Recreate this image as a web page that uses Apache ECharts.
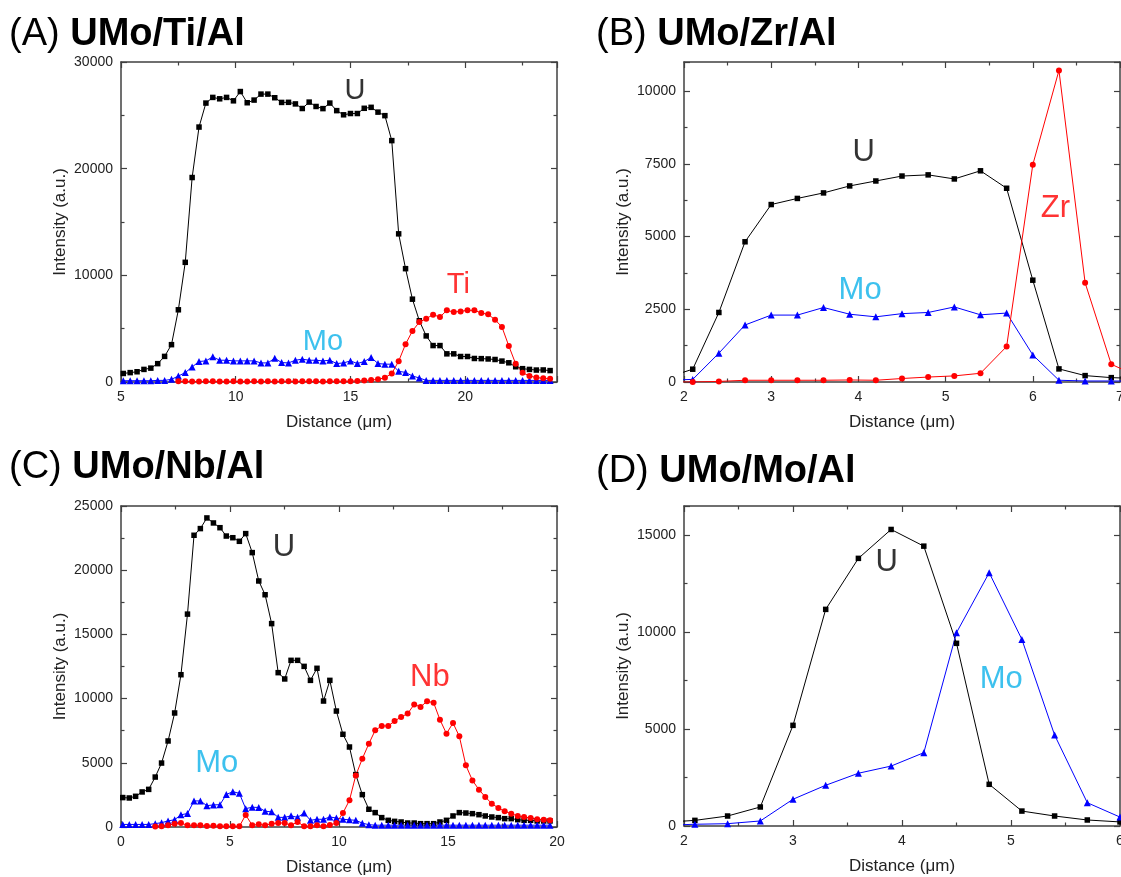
<!DOCTYPE html>
<html>
<head>
<meta charset="utf-8">
<script src="https://cdn.jsdelivr.net/npm/echarts@6/dist/echarts.min.js"></script>
<style>
  html, body { margin: 0; padding: 0; background: #ffffff; }
  #chart { width: 1121px; height: 877px; }
</style>
</head>
<body>
<div id="chart"></div>
<script>
// ---------- Line-scan data (distance in µm, intensity in a.u.) ----------

// (A) UMo/Ti/Al
const distA = [5.1, 5.4, 5.7, 6.0, 6.3, 6.6, 6.9, 7.2, 7.5, 7.8, 8.1, 8.4, 8.7, 9.0, 9.3, 9.6, 9.9, 10.2, 10.5, 10.8,
  11.1, 11.4, 11.7, 12.0, 12.3, 12.6, 12.9, 13.2, 13.5, 13.8, 14.1, 14.4, 14.7, 15.0, 15.3, 15.6, 15.9, 16.2, 16.5, 16.8,
  17.1, 17.4, 17.7, 18.0, 18.3, 18.6, 18.9, 19.2, 19.5, 19.8, 20.1, 20.4, 20.7, 21.0, 21.3, 21.6, 21.9, 22.2, 22.5, 22.8,
  23.1, 23.4, 23.7];
const uA = [800, 880, 960, 1180, 1300, 1720, 2400, 3500, 6770, 11220, 19170, 23900, 26150, 26680, 26550, 26680, 26360, 27230, 26180, 26430,
  26990, 26990, 26650, 26210, 26220, 26070, 25640, 26240, 25830, 25630, 26150, 25440, 25050, 25170, 25170, 25660, 25750, 25300, 24970, 22630,
  13890, 10625, 7765, 5745, 4320, 3415, 3415, 2640, 2640, 2390, 2390, 2205, 2190, 2160, 2110, 1960, 1800, 1430, 1250, 1180,
  1120, 1130, 1070];
const moA = [120, 120, 120, 120, 120, 150, 150, 250, 560, 880, 1410, 1920, 1980, 2360, 2040, 2040, 1980, 1980, 1980, 1980,
  1790, 1790, 2230, 1820, 1790, 2040, 2140, 2040, 2040, 1980, 2040, 1730, 1790, 1980, 1730, 1920, 2300, 1730, 1670, 1670,
  1000, 900, 560, 380, 150, 150, 150, 150, 150, 150, 150, 150, 150, 150, 150, 150, 150, 150, 150, 150,
  150, 150, 150];
const tiA = [null, null, null, null, null, null, null, null, 60, 60, 50, 50, 60, 60, 50, 50, 60, 50, 50, 60,
  50, 60, 50, 60, 60, 50, 60, 60, 60, 50, 60, 70, 60, 80, 100, 130, 180, 250, 400, 800,
  1950, 3550, 4780, 5620, 5940, 6310, 6090, 6720, 6560, 6620, 6720, 6720, 6470, 6340, 5840, 5160, 3380, 1700, 870, 560,
  420, 340, 300];

// (B) UMo/Zr/Al
const distB = [1.8, 2.1, 2.4, 2.7, 3.0, 3.3, 3.6, 3.9, 4.2, 4.5, 4.8, 5.1, 5.4, 5.7, 6.0, 6.3, 6.6, 6.9, 7.2];
const uB  = [150, 440, 2390, 4820, 6100, 6310, 6500, 6740, 6910, 7080, 7120, 6980, 7260, 6660, 3500, 450, 220, 150, 120];
const moB = [60, 90, 990, 1960, 2300, 2300, 2560, 2330, 2240, 2350, 2390, 2580, 2310, 2370, 930, 60, 35, 35, 30];
const zrB = [0, 0, 20, 60, 60, 60, 60, 70, 60, 120, 170, 210, 300, 1220, 7470, 10710, 3410, 610, 200];

// (C) UMo/Nb/Al
const distC = [0.08, 0.38, 0.67, 0.97, 1.27, 1.57, 1.86, 2.16, 2.46, 2.75, 3.05, 3.35, 3.64, 3.94, 4.24, 4.54, 4.83, 5.13, 5.43, 5.72,
  6.02, 6.32, 6.61, 6.91, 7.21, 7.51, 7.80, 8.10, 8.40, 8.69, 8.99, 9.29, 9.58, 9.88, 10.18, 10.48, 10.77, 11.07, 11.37, 11.66,
  11.96, 12.26, 12.55, 12.85, 13.15, 13.45, 13.74, 14.04, 14.34, 14.63, 14.93, 15.23, 15.52, 15.82, 16.12, 16.42, 16.71, 17.01, 17.31, 17.60,
  17.90, 18.20, 18.49, 18.79, 19.09, 19.39, 19.68];
const uC = [2290, 2260, 2390, 2730, 2930, 3890, 4980, 6700, 8880, 11860, 16580, 22720, 23240, 24070, 23680, 23310, 22660, 22530, 22250, 22850,
  21370, 19160, 18090, 15840, 12020, 11530, 12980, 12980, 12510, 11420, 12360, 9810, 11420, 9030, 7220, 6230, 4080, 2520, 1380, 1120,
  730, 520, 440, 390, 310, 310, 260, 260, 260, 390, 520, 860, 1120, 1090, 1040, 960, 860, 780, 730, 650,
  650, 570, 520, 520, 470, 470, 470];
const moC = [200, 200, 200, 200, 200, 260, 340, 470, 570, 950, 1050, 2030, 2030, 1660, 1720, 1740, 2530, 2750, 2620, 1430,
  1540, 1520, 1230, 1180, 750, 750, 870, 750, 1090, 520, 600, 600, 780, 700, 600, 560, 520, 300, 180, 140,
  140, 140, 140, 140, 140, 140, 140, 140, 140, 140, 140, 140, 140, 140, 140, 140, 140, 140, 140, 140,
  140, 140, 140, 140, 140, 140, 140];
const nbC = [null, null, null, null, null, 30, 60, 130, 260, 310, 130, 130, 130, 80, 100, 60, 60, 60, 50, 940,
  130, 210, 130, 260, 310, 310, 130, 390, 60, 60, 130, 60, 150, 310, 1090, 2080, 4020, 5320, 6490, 7530,
  7870, 7870, 8250, 8570, 8830, 9550, 9350, 9790, 9680, 8360, 7270, 8100, 7060, 4800, 3630, 2910, 2340, 1820, 1480, 1220,
  1040, 860, 780, 700, 600, 570, 520];

// (D) UMo/Mo/Al
const distD = [1.8, 2.1, 2.4, 2.7, 3.0, 3.3, 3.6, 3.9, 4.2, 4.5, 4.8, 5.1, 5.4, 5.7, 6.0];
const uD  = [180, 290, 515, 980, 5190, 11170, 13800, 15290, 14430, 9420, 2150, 770, 515, 310, 210];
const moD = [30, 90, 120, 260, 1380, 2100, 2720, 3090, 3780, 9970, 13060, 9620, 4690, 1200, 460];

// ---------- Styling ----------
const FONT = "'Liberation Sans', Arial, Helvetica, sans-serif";
const AXIS_COLOR = '#404040';
const MO_LABEL = '#0db2ea';

const elementStyle = {
  U:  { color: '#000000', symbol: 'rect', size: 5.5 },
  Mo: { color: '#0000ff', symbol: 'triangle', size: 7 },
  X:  { color: '#ff0000', symbol: 'circle', size: 6 }
};

const panels = [
  {
    grid: { left: 121, top: 62, width: 436, height: 320 },
    x: { min: 5, max: 24, interval: 5, showMax: false },
    y: { min: 0, max: 30000, interval: 10000, showMax: true },
    title: ['(A)', 'UMo/Ti/Al'], titleAt: [9, 35],
    series: [['U', distA, uA], ['Mo', distA, moA], ['X', distA, tiA]],
    labels: [['U', 15.2, 27300, '#000', 29], ['Ti', 19.7, 9060, '#ff0000', 29], ['Mo', 13.8, 3750, MO_LABEL, 29]]
  },
  {
    grid: { left: 684, top: 62, width: 436, height: 320 },
    x: { min: 2, max: 7, interval: 1, showMax: true },
    y: { min: 0, max: 11000, interval: 2500, showMax: false },
    title: ['(B)', 'UMo/Zr/Al'], titleAt: [596, 35],
    series: [['U', distB, uB], ['Mo', distB, moB], ['X', distB, zrB]],
    labels: [['U', 4.06, 7900, '#000', 31], ['Mo', 4.02, 3134, MO_LABEL, 31], ['Zr', 6.26, 5950, '#ff0000', 31]]
  },
  {
    grid: { left: 121, top: 506, width: 436, height: 321 },
    x: { min: 0, max: 20, interval: 5, showMax: true },
    y: { min: 0, max: 25000, interval: 5000, showMax: true },
    title: ['(C)', 'UMo/Nb/Al'], titleAt: [9, 468],
    series: [['U', distC, uC], ['Mo', distC, moC], ['X', distC, nbC]],
    labels: [['U', 7.48, 21760, '#000', 31], ['Mo', 4.39, 4930, MO_LABEL, 31], ['Nb', 14.17, 11680, '#ff0000', 31]]
  },
  {
    grid: { left: 684, top: 506, width: 436, height: 320 },
    x: { min: 2, max: 6, interval: 1, showMax: true },
    y: { min: 0, max: 16500, interval: 5000, showMax: false },
    title: ['(D)', 'UMo/Mo/Al'], titleAt: [596, 472],
    series: [['U', distD, uD], ['Mo', distD, moD]],
    labels: [['U', 3.86, 13570, '#000', 31], ['Mo', 4.91, 7560, MO_LABEL, 31]]
  }
];

// ---------- Option assembly ----------
const grids = [], xAxes = [], yAxes = [], series = [], graphics = [];

function axisBase(range, extra) {
  return Object.assign({
    type: 'value',
    min: range.min, max: range.max, interval: range.interval,
    splitLine: { show: false },
    axisLine: { show: true, onZero: false, lineStyle: { color: AXIS_COLOR, width: 1.5 } },
    axisTick: { show: true, inside: true, length: 6, lineStyle: { color: AXIS_COLOR, width: 1.2 } },
    minorTick: { show: true, splitNumber: 2, length: 3.5, lineStyle: { color: AXIS_COLOR, width: 1.2 } }
  }, extra);
}

// plain numbers, no thousands separators
const tickLabel = (showMax) => ({
  show: true, color: '#222', fontSize: 14, fontFamily: FONT, margin: 8,
  showMinLabel: true, showMaxLabel: showMax,
  formatter: (v) => String(v)
});
const axisName = { color: '#222', fontSize: 17, fontFamily: FONT };

panels.forEach((p, gi) => {
  // fixed plot rectangles: tick labels may run past the page edge
  grids.push(Object.assign({ containLabel: false, outerBoundsMode: 'none' }, p.grid));
  const xb = xAxes.length, yb = yAxes.length;
  xAxes.push(axisBase(p.x, {
    gridIndex: gi, position: 'bottom', axisLabel: tickLabel(p.x.showMax),
    name: 'Distance (\u03bcm)', nameLocation: 'middle', nameGap: 32, nameTextStyle: axisName
  }));
  xAxes.push(axisBase(p.x, { gridIndex: gi, position: 'top', axisLabel: { show: false } }));
  yAxes.push(axisBase(p.y, {
    gridIndex: gi, position: 'left', axisLabel: tickLabel(p.y.showMax),
    name: 'Intensity (a.u.)', nameLocation: 'middle', nameGap: 52, nameTextStyle: axisName
  }));
  yAxes.push(axisBase(p.y, { gridIndex: gi, position: 'right', axisLabel: { show: false } }));

  p.series.forEach(([kind, xs, ys]) => {
    const st = elementStyle[kind];
    const pts = [];
    xs.forEach((x, i) => { if (ys[i] !== null) pts.push([x, ys[i]]); });
    series.push({
      type: 'line', xAxisIndex: xb, yAxisIndex: yb, data: pts,
      symbol: st.symbol, symbolSize: st.size, showSymbol: true,
      lineStyle: { color: st.color, width: 1 },
      itemStyle: { color: st.color, borderWidth: 0 },
      clip: true, silent: true, emphasis: { disabled: true }
    });
  });

  p.labels.forEach(([text, lx, ly, color, size]) => {
    series.push({
      type: 'scatter', xAxisIndex: xb, yAxisIndex: yb, data: [[lx, ly]],
      symbolSize: 0, silent: true, z: 10,
      label: { show: true, position: 'inside', formatter: text, color: color, fontSize: size, fontFamily: FONT }
    });
  });

  graphics.push({
    type: 'text', x: p.titleAt[0], y: p.titleAt[1],
    style: {
      text: '{a|' + p.title[0] + '} {b|' + p.title[1] + '}',
      verticalAlign: 'middle',
      fill: '#000',
      rich: {
        a: { fontSize: 38, fontFamily: FONT, fontWeight: 'normal', fill: '#000' },
        b: { fontSize: 38, fontFamily: FONT, fontWeight: 'bold', fill: '#000' }
      },
      font: '38px ' + FONT
    }
  });
});

const chart = echarts.init(document.getElementById('chart'), null, { renderer: 'canvas' });
chart.setOption({
  backgroundColor: '#ffffff',
  animation: false,
  grid: grids,
  xAxis: xAxes,
  yAxis: yAxes,
  series: series,
  graphic: graphics
});
</script>
</body>
</html>
